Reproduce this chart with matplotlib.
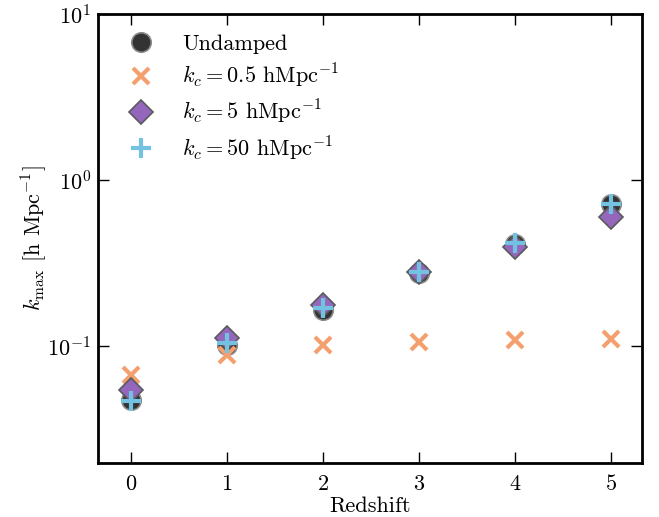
import matplotlib
matplotlib.use("Agg")
import matplotlib.pyplot as plt
from matplotlib.ticker import LogLocator, NullLocator

plt.rcParams['font.family'] = 'serif'
plt.rcParams['font.serif'] = ['cmr10', 'DejaVu Serif']
plt.rcParams['mathtext.fontset'] = 'cm'
plt.rcParams['axes.formatter.use_mathtext'] = True

redshift = [0, 1, 2, 3, 4, 5]
undamped = [0.047, 0.101, 0.165, 0.274, 0.41, 0.716]
kc_05 = [0.0668, 0.0883, 0.1014, 0.106, 0.1087, 0.110]
kc_5 = [0.0543, 0.1117, 0.1766, 0.2807, 0.396, 0.595]
kc_50 = [0.0466, 0.104, 0.169, 0.280, 0.416, 0.716]

labels = ['Undamped',
          r'$k_c = 0.5$ hMpc$^{-1}$',
          r'$k_c = 5$ hMpc$^{-1}$',
          r'$k_c = 50$ hMpc$^{-1}$']

fig = plt.figure(figsize=(6.59, 5.17), dpi=100)
ax = fig.add_axes([0.1487, 0.1044, 0.8253, 0.8685])

ax.plot(redshift, undamped, 'o', ms=14, mfc='#333333', mec='#8a8a8a', mew=1.2,
        label=labels[0], ls='none')
ax.plot(redshift, kc_05, 'x', ms=11, mec='#f4a06e', mew=3,
        label=labels[1], ls='none')
ax.plot(redshift, kc_5, 'D', ms=12, mfc='#9467bd', mec='#5a5a5a', mew=1.2,
        label=labels[2], ls='none')
ax.plot(redshift, kc_50, '+', ms=15, mec='#74c2e1', mew=3,
        label=labels[3], ls='none')

ax.set_yscale('log')
ax.set_xlim(-0.345, 5.325)
ax.set_ylim(0.0197, 10)
ax.set_xticks(redshift)
ax.yaxis.set_major_locator(LogLocator(base=10, numticks=10))
ax.yaxis.set_minor_locator(NullLocator())

for s in ax.spines.values():
    s.set_linewidth(2)
ax.tick_params(which='major', direction='in', length=8, width=1,
               top=True, right=True, labelsize=16)
ax.tick_params(axis='x', pad=8)
ax.tick_params(axis='y', pad=5)

ax.set_xlabel('Redshift', fontsize=16, labelpad=2)
ax.set_ylabel(r'$k_{\rm max}$ [h Mpc$^{-1}$]', fontsize=16, labelpad=-1)

ax.legend(loc='upper left', frameon=False, numpoints=1, fontsize=16,
          handletextpad=0.88, labelspacing=0.37, borderaxespad=0.52,
          bbox_to_anchor=(0.0, 1.0))

fig.savefig('out.png', dpi=100)
